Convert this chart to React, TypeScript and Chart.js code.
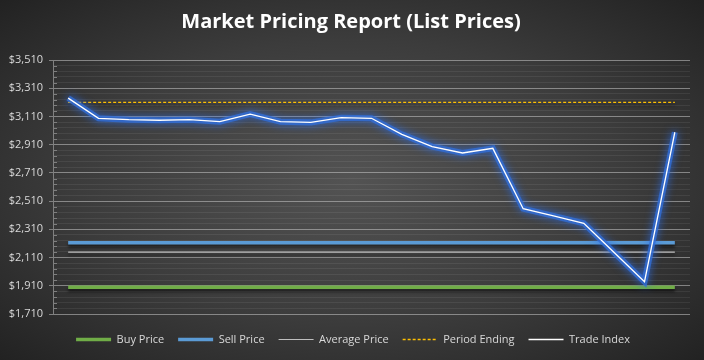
import React, { useEffect, useRef } from 'react';
import { Chart, registerables } from 'chart.js';

Chart.register(...registerables);

// ---- Data ----
const periods = ['P1', 'P2', 'P3', 'P4', 'P5', 'P6', 'P7', 'P8', 'P9', 'P10', 'P11', 'P12', 'P13', 'P14', 'P15', 'P16', 'P17', 'P18', 'P19', 'P20', 'P21'];
const tradeIndex = [3240, 3097, 3087, 3083, 3087, 3073, 3127, 3073, 3068, 3101, 3097, 2983, 2896, 2851, 2884, 2456, 2405, 2353, 2146, 1939, 2998];
const buyPrice = 1900;
const sellPrice = 2215;
const averagePrice = 2148;
const periodEnding = 3210;
const seriesNames = ['Buy Price', 'Sell Price', 'Average Price', 'Period Ending', 'Trade Index'];
const yMin = 1710;
const yMax = 3510;
const yMajorStep = 200;
const yMinorStep = 40;

const isMajor = (v: number) => Math.round(v - yMin) % yMajorStep === 0;
const fmt = (v: number) => '$' + Math.round(v).toLocaleString('en-US');

const FONT = "'Open Sans', 'Noto Sans', sans-serif";

const effectsPlugin = {
  id: 'lineEffects',
  afterLayout(chart: any) {
    // center legend and title on the full canvas width, nudge legend down
    if (chart.legend) {
      chart.legend.left += 8;
      chart.legend.right += 8;
      chart.legend.top += 6;
      chart.legend.bottom += 6;
    }
    if (chart.titleBlock) {
      chart.titleBlock.left += 6;
      chart.titleBlock.right += 6;
    }
  },
  beforeDatasetDraw(chart: any, args: any) {
    const ds = chart.data.datasets[args.index];
    const ctx = chart.ctx;
    ctx.save();
    if (ds.label === '__glow') {
      ctx.shadowColor = 'rgba(40,110,240,1)';
      ctx.shadowBlur = 9;
    } else if (ds.label !== 'Trade Index') {
      ctx.shadowColor = 'rgba(0,0,0,0.55)';
      ctx.shadowOffsetY = 3;
      ctx.shadowBlur = 3;
    }
  },
  afterDatasetDraw(chart: any) {
    chart.ctx.restore();
  },
  beforeDatasetsDraw(chart: any) {
    const y = chart.scales.y;
    const ctx = chart.ctx;
    ctx.save();
    ctx.strokeStyle = '#7f7f7f';
    ctx.lineWidth = 1;
    ctx.beginPath();
    for (const t of y.ticks) {
      if (isMajor(t.value)) continue;
      const py = Math.round(y.getPixelForValue(t.value)) + 0.5;
      ctx.moveTo(y.right, py);
      ctx.lineTo(y.right + 4, py);
    }
    ctx.stroke();
    ctx.restore();
  },
};

export default function App() {
  const canvasRef = useRef<HTMLCanvasElement | null>(null);

  useEffect(() => {
    if (!canvasRef.current) return;
    const flat = (v: number) => periods.map(() => v);
    const styles: any[] = [
      { label: seriesNames[0], data: flat(buyPrice), borderColor: '#70ad47', borderWidth: 3.5, order: 1 },
      { label: seriesNames[1], data: flat(sellPrice), borderColor: '#5b9bd5', borderWidth: 3.5, order: 1 },
      { label: seriesNames[2], data: flat(averagePrice), borderColor: '#bfbfbf', borderWidth: 1.2, order: 1 },
      { label: seriesNames[3], data: flat(periodEnding), borderColor: '#ffc000', borderWidth: 1.3, borderDash: [3, 2], order: 1 },
      { label: seriesNames[4], data: tradeIndex, borderColor: '#ffffff', borderWidth: 1.3, order: -1 },
      { label: '__glow', data: tradeIndex, borderColor: 'rgba(50,110,215,0.8)', borderWidth: 6, order: 0 },
    ];
    const datasets = styles.map((s) => ({
      ...s,
      pointRadius: 0,
      pointHoverRadius: 0,
      pointStyle: 'line',
      tension: 0,
      fill: false,
    }));

    const chart = new Chart(canvasRef.current, {
      type: 'line',
      data: { labels: periods, datasets },
      options: {
        animation: false,
        responsive: true,
        maintainAspectRatio: false,
        layout: { padding: { top: 10, right: 14, bottom: 11, left: 0 } },
        scales: {
          x: {
            display: false,
            offset: true,
          },
          y: {
            min: yMin,
            max: yMax,
            afterFit: (scale: any) => {
              scale.width = 53;
            },
            border: { display: true, color: '#808080', width: 1 },
            grid: {
              color: (c: any) => (c.tick && isMajor(c.tick.value) ? 'rgba(200,200,200,0.55)' : 'rgba(255,255,255,0.07)'),
              tickColor: (c: any) => (c.tick && isMajor(c.tick.value) ? '#808080' : 'rgba(0,0,0,0)'),
              tickLength: 4,
              lineWidth: 1,
            },
            ticks: {
              stepSize: yMinorStep,
              autoSkip: false,
              maxTicksLimit: 200,
              padding: 6,
              color: '#d9d9d9',
              font: { family: FONT, size: 11 },
              callback: (v: any) => (isMajor(Number(v)) ? fmt(Number(v)) : ''),
            },
          },
        },
        plugins: {
          title: {
            display: true,
            text: 'Market Pricing Report (List Prices)',
            color: '#ffffff',
            font: { family: FONT, size: 20, weight: 'bold' },
            padding: { top: 0, bottom: 26 },
          },
          legend: {
            position: 'bottom',
            labels: {
              usePointStyle: true,
              pointStyleWidth: 35,
              boxHeight: 11,
              padding: 14,
              color: '#d9d9d9',
              font: { family: FONT, size: 11 },
              generateLabels: (ch: any) =>
                ch.data.datasets
                  .map((d: any, i: number) => ({ d, i }))
                  .filter(({ d }: any) => d.label !== '__glow')
                  .map(({ d, i }: any) => ({
                    text: d.label,
                    fillStyle: d.borderColor,
                    strokeStyle: d.borderColor,
                    lineWidth: d.borderWidth,
                    lineDash: d.borderDash || [],
                    pointStyle: 'line',
                    fontColor: '#d9d9d9',
                    hidden: false,
                    datasetIndex: i,
                  })),
            },
          },
          tooltip: { enabled: false },
        },
      },
      plugins: [effectsPlugin],
    } as any);

    return () => chart.destroy();
  }, []);

  return (
    <div
      style={{
        position: 'absolute',
        left: 0,
        top: 0,
        width: 704,
        height: 360,
        background: 'radial-gradient(ellipse at 50% 50%, #535353 0%, #3c3c3c 55%, #222222 100%)',
      }}
    >
      <canvas ref={canvasRef} />
    </div>
  );
}
